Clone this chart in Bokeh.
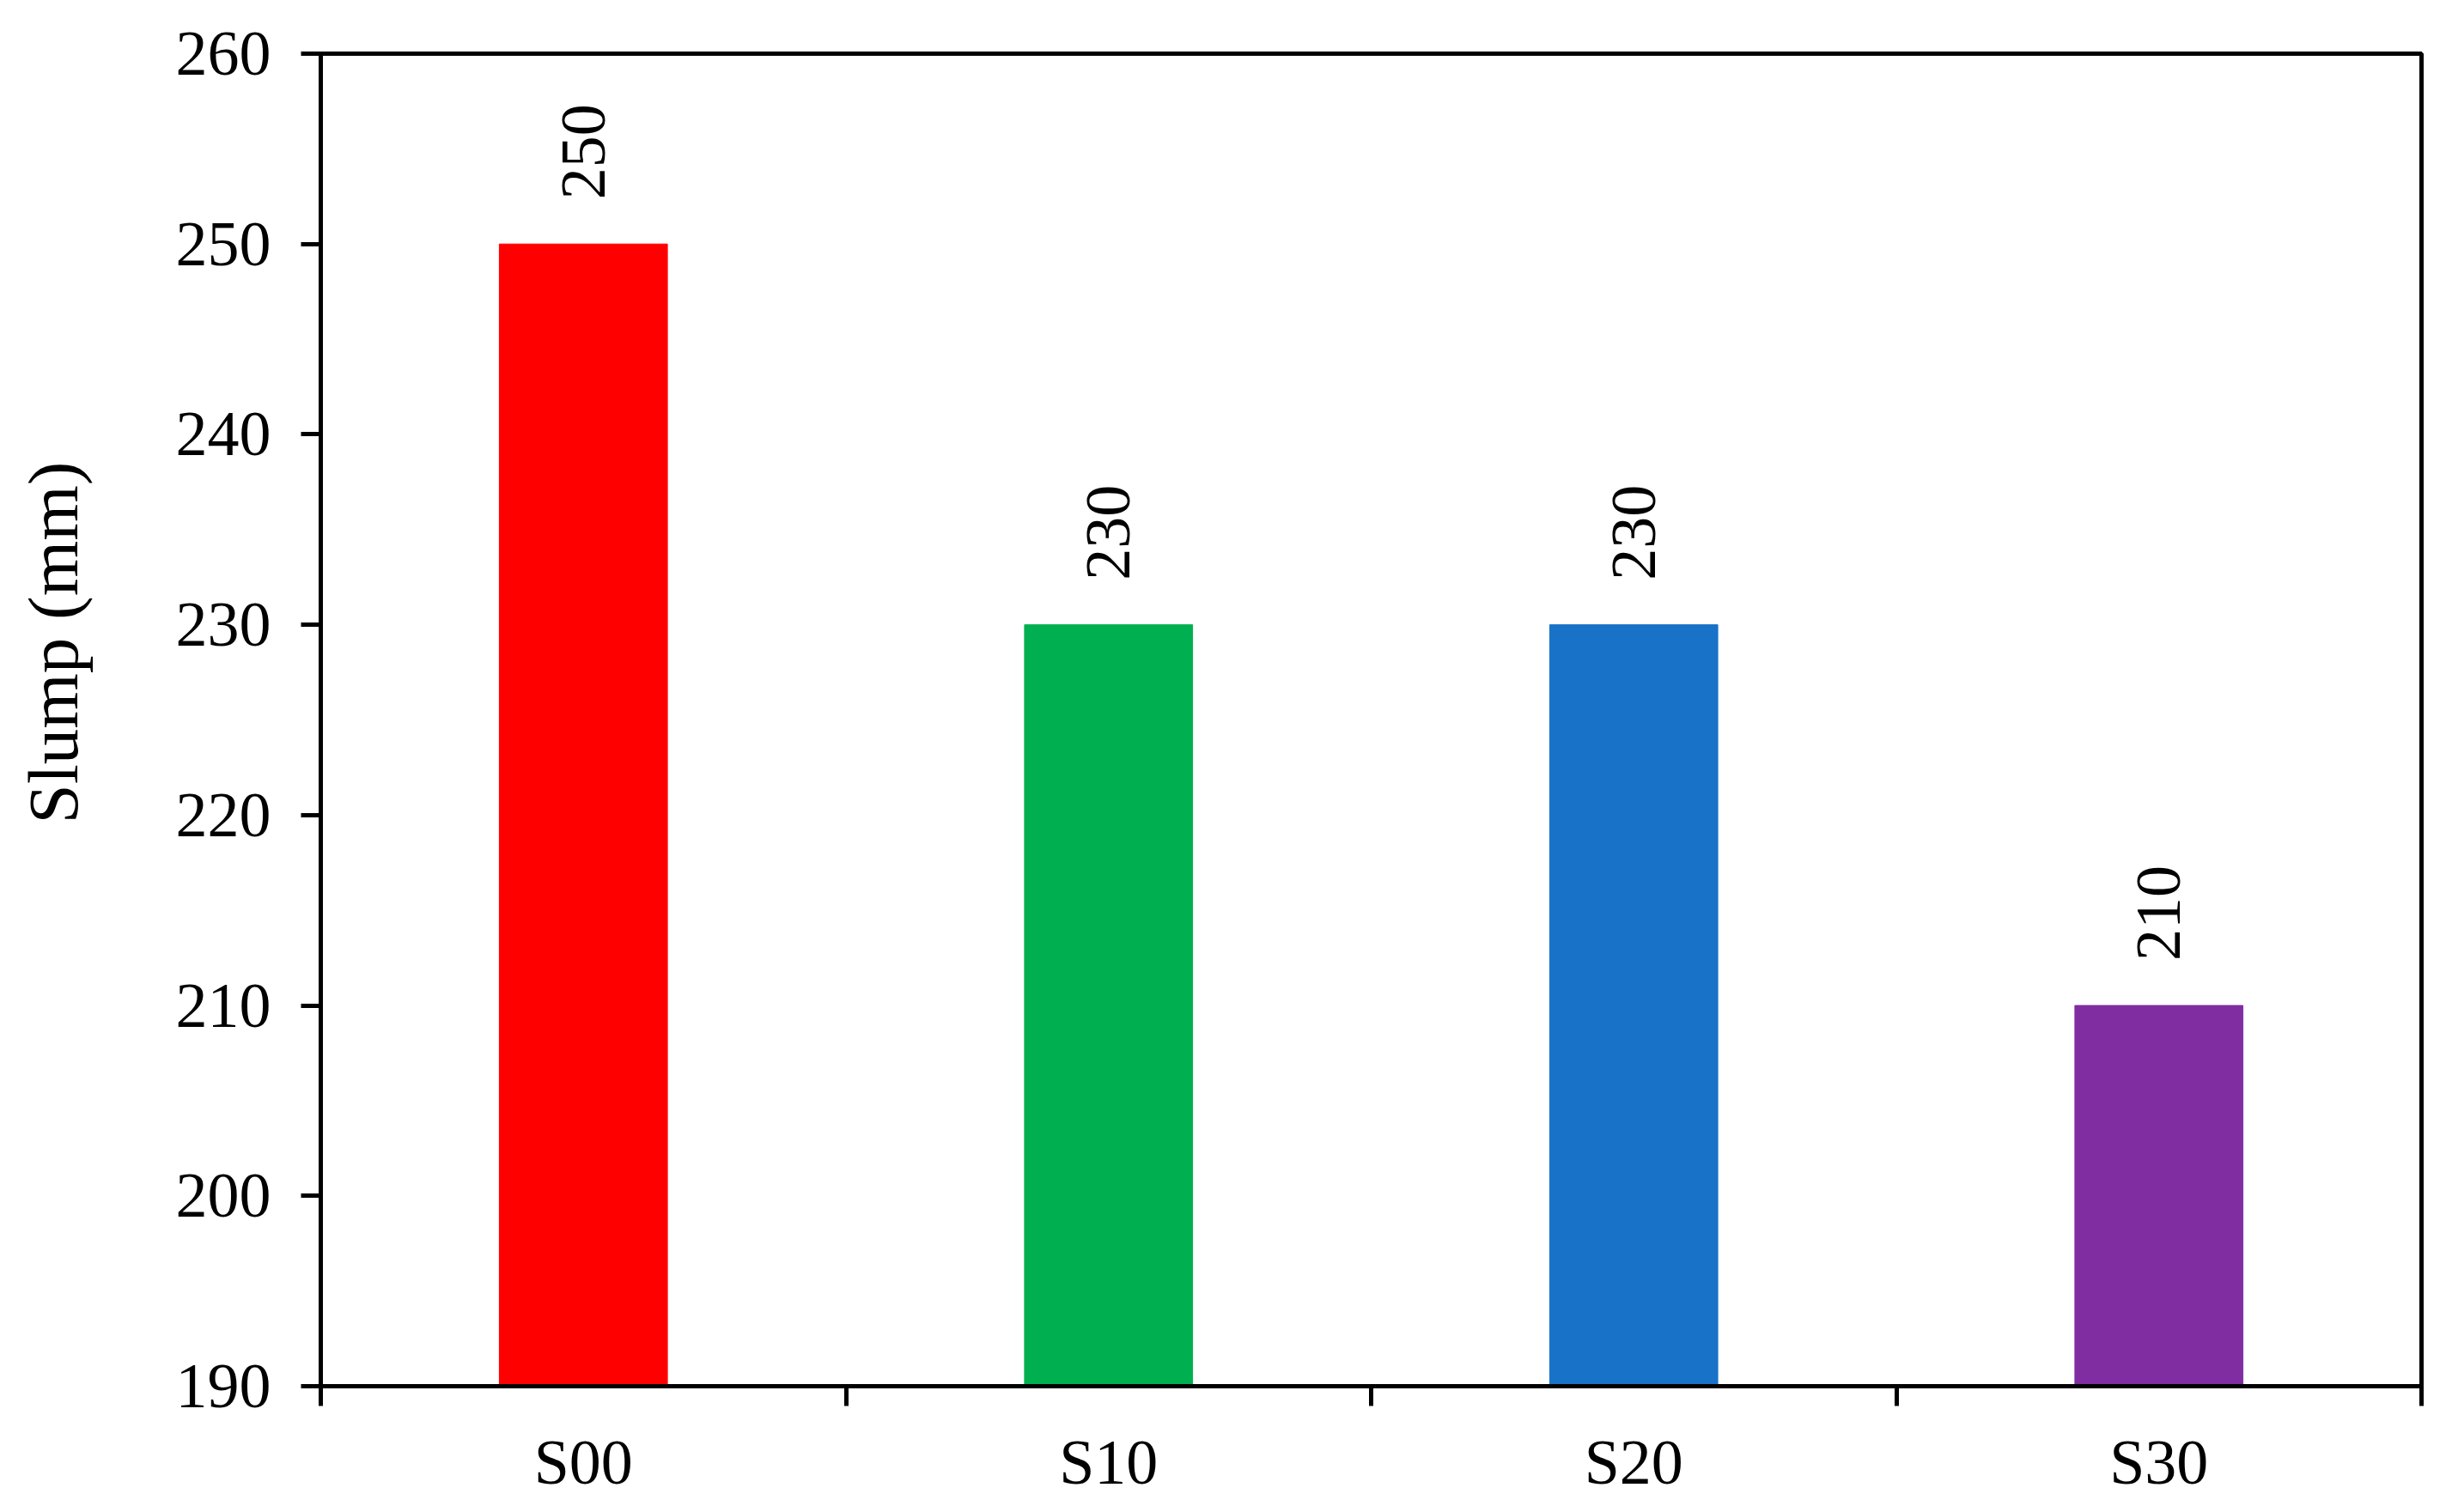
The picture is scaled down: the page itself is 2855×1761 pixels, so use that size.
import math
from bokeh.plotting import figure
from bokeh.models import Range1d, FixedTicker, LabelSet, Title, ColumnDataSource
from bokeh.embed import file_html
from bokeh.resources import INLINE

# ---- data ----
categories = ["S00", "S10", "S20", "S30"]
slump = [250, 230, 230, 210]
colors = ["#FF0000", "#00B050", "#1873C8", "#7F2DA1"]
y_ticks = [190, 200, 210, 220, 230, 240, 250, 260]
y_min, y_max = 190, 260

xpos = [i + 0.5 for i in range(len(categories))]
source = ColumnDataSource(dict(
    x=xpos, top=slump, cat=categories, color=colors,
    label=[str(v) for v in slump],
))

FONT = "Liberation Serif"
FS = "74px"
LW = 5

p = figure(
    output_backend="svg", toolbar_location=None,
    frame_width=2446, frame_height=1552,
    min_border_left=373, min_border_top=62, min_border_right=25, min_border_bottom=130,
    x_range=Range1d(0, len(categories)), y_range=Range1d(y_min, y_max),
    background_fill_color="white", border_fill_color="white",
)
p.xgrid.visible = False
p.ygrid.visible = False
p.outline_line_color = "black"
p.outline_line_width = LW
p.outline_line_alpha = 1.0

p.vbar(x="x", top="top", bottom=y_min, width=0.32, fill_color="color",
       line_color="color", line_width=1, source=source)

# value labels above bars
labels = LabelSet(x="x", y="top", text="label", source=source,
                  angle=math.pi / 2, text_align="left", text_baseline="middle",
                  y_offset=52, text_font=FONT, text_font_size=FS,
                  text_color="black")
p.add_layout(labels)

# x axis: category names at centers, ticks at category boundaries
xa = p.xaxis[0]
xa.ticker = FixedTicker(ticks=xpos, minor_ticks=list(range(len(categories) + 1)))
xa.major_label_overrides = {x: c for x, c in zip(xpos, categories)}
xa.major_tick_out = 0
xa.major_tick_in = 0
xa.minor_tick_out = 23
xa.minor_tick_in = 0
xa.minor_tick_line_width = LW
xa.minor_tick_line_color = "black"
xa.axis_line_width = LW
xa.axis_line_color = "black"
xa.major_label_text_font = FONT
xa.major_label_text_font_size = FS
xa.major_label_text_color = "black"
xa.major_label_standoff = 24

ya = p.yaxis[0]
ya.ticker = FixedTicker(ticks=y_ticks, minor_ticks=[])
ya.major_tick_out = 23
ya.major_tick_in = 0
ya.major_tick_line_width = LW
ya.major_tick_line_color = "black"
ya.minor_tick_out = 0
ya.minor_tick_in = 0
ya.axis_line_width = LW
ya.axis_line_color = "black"
ya.major_label_text_font = FONT
ya.major_label_text_font_size = FS
ya.major_label_text_color = "black"
ya.major_label_standoff = 35
# invisible spacer label to widen the axis panel (pushes the title outward)
ya.axis_label = " "
ya.axis_label_text_font_size = "1px"
ya.axis_label_standoff = 85

# y axis title
ytitle = Title(text="Slump (mm)", align="left", offset=655, standoff=10,
               text_font=FONT, text_font_size="83px", text_font_style="normal",
               text_color="black")
p.add_layout(ytitle, "left")

open("out.html", "w").write(file_html(p, INLINE))
